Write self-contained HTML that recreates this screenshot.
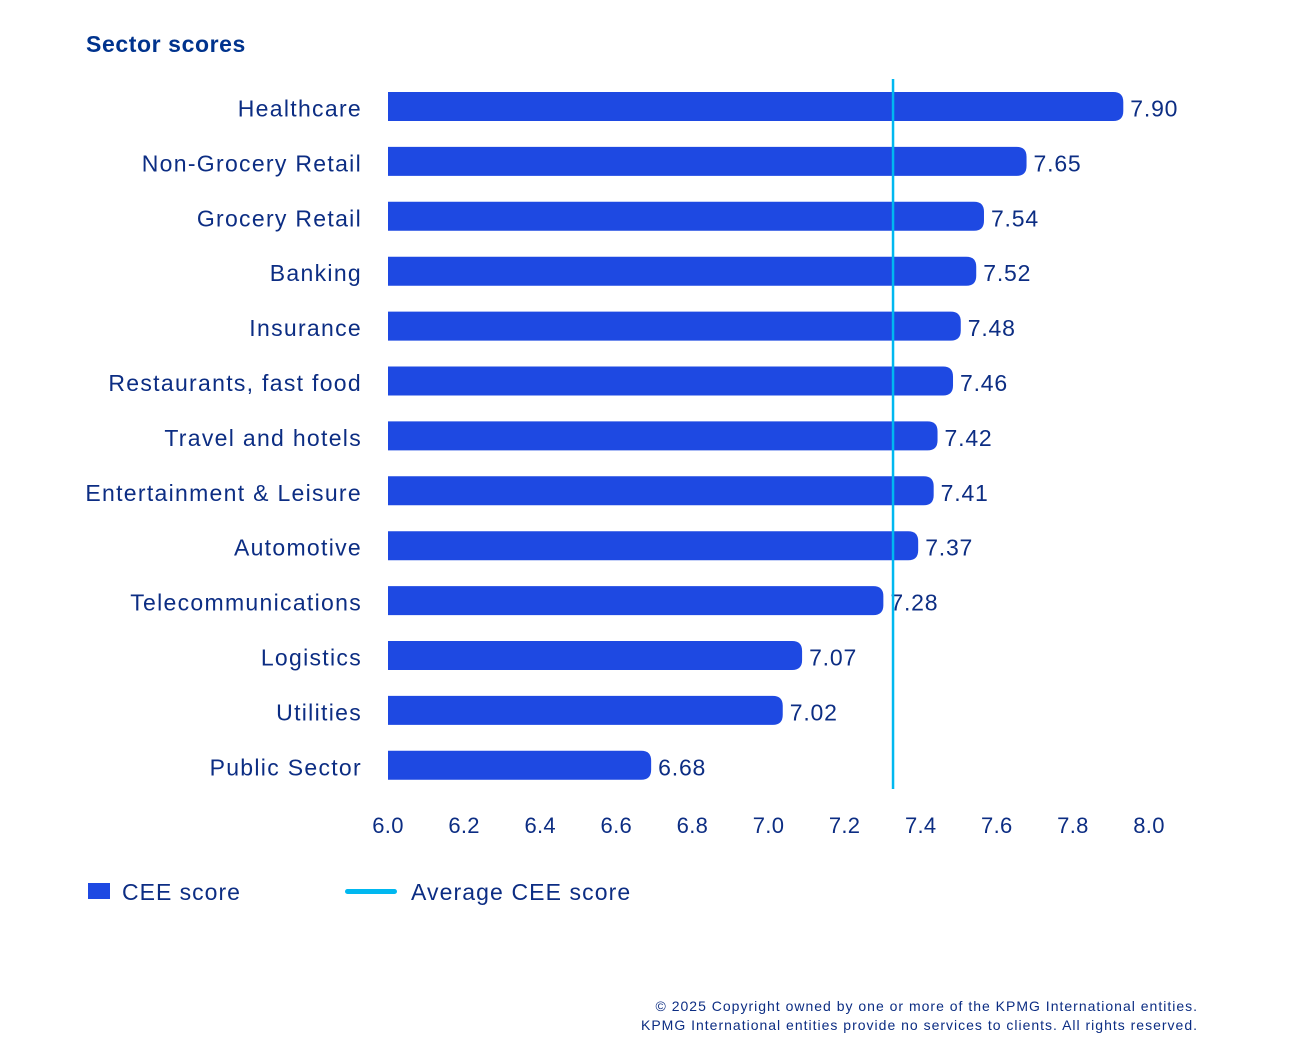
<!DOCTYPE html>
<html><head><meta charset="utf-8"><style>
html,body{margin:0;padding:0;background:#fff;}
body{width:1316px;height:1038px;overflow:hidden;font-family:"Liberation Sans",sans-serif;}
text{font-family:"Liberation Sans",sans-serif;}
</style></head><body>
<svg id="chart" width="1316" height="1038" viewBox="0 0 1316 1038">
<text x="86" y="52" font-size="23" font-weight="bold" fill="#00338D" letter-spacing="0.6">Sector scores</text>
<g id="bars"></g>
<g id="ticks"></g>
<g id="avg"></g>
<g>
<rect x="88" y="883" width="22" height="16" fill="#1E49E2"/>
<text x="122" y="900" font-size="23" fill="#0C2D83" letter-spacing="1">CEE score</text>
<rect x="345" y="889" width="52" height="5" rx="2.5" fill="#00B8F0"/>
<text x="411" y="900" font-size="23" fill="#0C2D83" letter-spacing="1.1">Average CEE score</text>
</g>
<text x="1198" y="1011" font-size="14" fill="#0C2D83" text-anchor="end" letter-spacing="1">© 2025 Copyright owned by one or more of the KPMG International entities.</text>
<text x="1198" y="1030" font-size="14" fill="#0C2D83" text-anchor="end" letter-spacing="1">KPMG International entities provide no services to clients. All rights reserved.</text>
</svg>
<script>
const categories = ["Healthcare","Non-Grocery Retail","Grocery Retail","Banking","Insurance","Restaurants, fast food","Travel and hotels","Entertainment & Leisure","Automotive","Telecommunications","Logistics","Utilities","Public Sector"];
const scores = [7.90,7.65,7.54,7.52,7.48,7.46,7.42,7.41,7.37,7.28,7.07,7.02,6.68];
const tickValues = [6.0,6.2,6.4,6.6,6.8,7.0,7.2,7.4,7.6,7.8,8.0];
const tickLabels = ["6.0","6.2","6.4","6.6","6.8","7.0","7.2","7.4","7.6","7.8","8.0"];
const averageScore = 7.305;

const NS = "http://www.w3.org/2000/svg";
const x = v => 388 + (v - 6.0) * 387;
const xTick = v => 388 + (v - 6.0) * 380.5;
const rowY = i => 106.5 + i * 54.9;
const BH = 29;
function mk(tag, attrs){const e=document.createElementNS(NS,tag);for(const k in attrs)e.setAttribute(k,attrs[k]);return e;}

const bars = document.getElementById('bars');
categories.forEach((c,i)=>{
  const cy = rowY(i), x0 = x(6.0), x1 = x(scores[i]), r = 10, t = cy-BH/2, b = cy+BH/2;
  const p = mk('path',{d:`M${x0},${t}H${x1-r}Q${x1},${t} ${x1},${t+r}V${b-r}Q${x1},${b} ${x1-r},${b}H${x0}Z`,fill:'#1E49E2'});
  
  
  bars.appendChild(p);
  const lbl = mk('text',{x:362,y:cy+10,'font-size':23,fill:'#0C2D83','text-anchor':'end','letter-spacing':'1.3'});
  lbl.textContent = c;
  
  
  bars.appendChild(lbl);
  const val = mk('text',{x:x1+7,y:cy+10,'font-size':23,fill:'#0C2D83','letter-spacing':'0.8'});
  val.textContent = scores[i].toFixed(2);
  
  
  bars.appendChild(val);
});

const ticks = document.getElementById('ticks');
tickValues.forEach((v,i)=>{
  const t = mk('text',{x:xTick(v),y:833,'font-size':22,fill:'#0C2D83','text-anchor':'middle','letter-spacing':'0.3'});
  t.textContent = tickLabels[i];
  
  
  ticks.appendChild(t);
});

const avg = document.getElementById('avg');
const line = mk('line',{x1:x(averageScore),x2:x(averageScore),y1:79,y2:789,stroke:'#00B8F0','stroke-width':2.5});


avg.appendChild(line);
</script>
</body></html>
